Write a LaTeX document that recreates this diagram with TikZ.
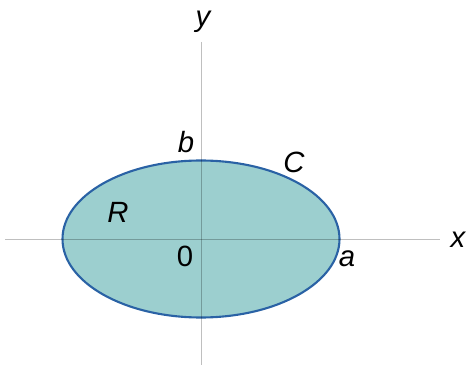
\documentclass[tikz,border=0pt]{standalone}
\usepackage{fontspec}
\setmainfont{Liberation Sans}
\usetikzlibrary{positioning}
\definecolor{regfill}{HTML}{9CCFCF}
\definecolor{regline}{HTML}{2A62A5}

\begin{document}
\begin{tikzpicture}[x=0.03cm, y=-0.03cm,
      axis/.style={draw=black, draw opacity=0.25, line width=0.6pt},
      lbl/.style={font=\fontsize{25}{30}\selectfont\itshape, inner sep=0pt}]

    \useasboundingbox (0,0) rectangle (467,366);

    % === region ===
    \coordinate (o) at (201,239);
    \filldraw[fill=regfill, draw=regline, line width=1.8pt] (o) ellipse [x radius=138.5, y radius=78.5];

    % === axes ===
    \coordinate (xl) at (5,239);
    \coordinate (xr) at (440,239);
    \coordinate (yt) at (201,42);
    \coordinate (yb) at (201,365);
    \draw[axis] (xl) -- (xr);
    \draw[axis] (yt) -- (yb);

    % === labels ===
    \node[lbl] (xlab) at (458,240) {x};
    \node[lbl] (ylab) at (203,22) {y};
    \node[lbl] (blab) at (186,142) {b};
    \node[lbl] (clab) at (294,162) {C};
    \node[lbl] (rlab) at (118,212) {R};
    \node[lbl, font=\fontsize{25}{30}\selectfont] (olab) at (185,256) {0};
    \node[lbl] (alab) at (347,259) {a};

\end{tikzpicture}
\end{document}
